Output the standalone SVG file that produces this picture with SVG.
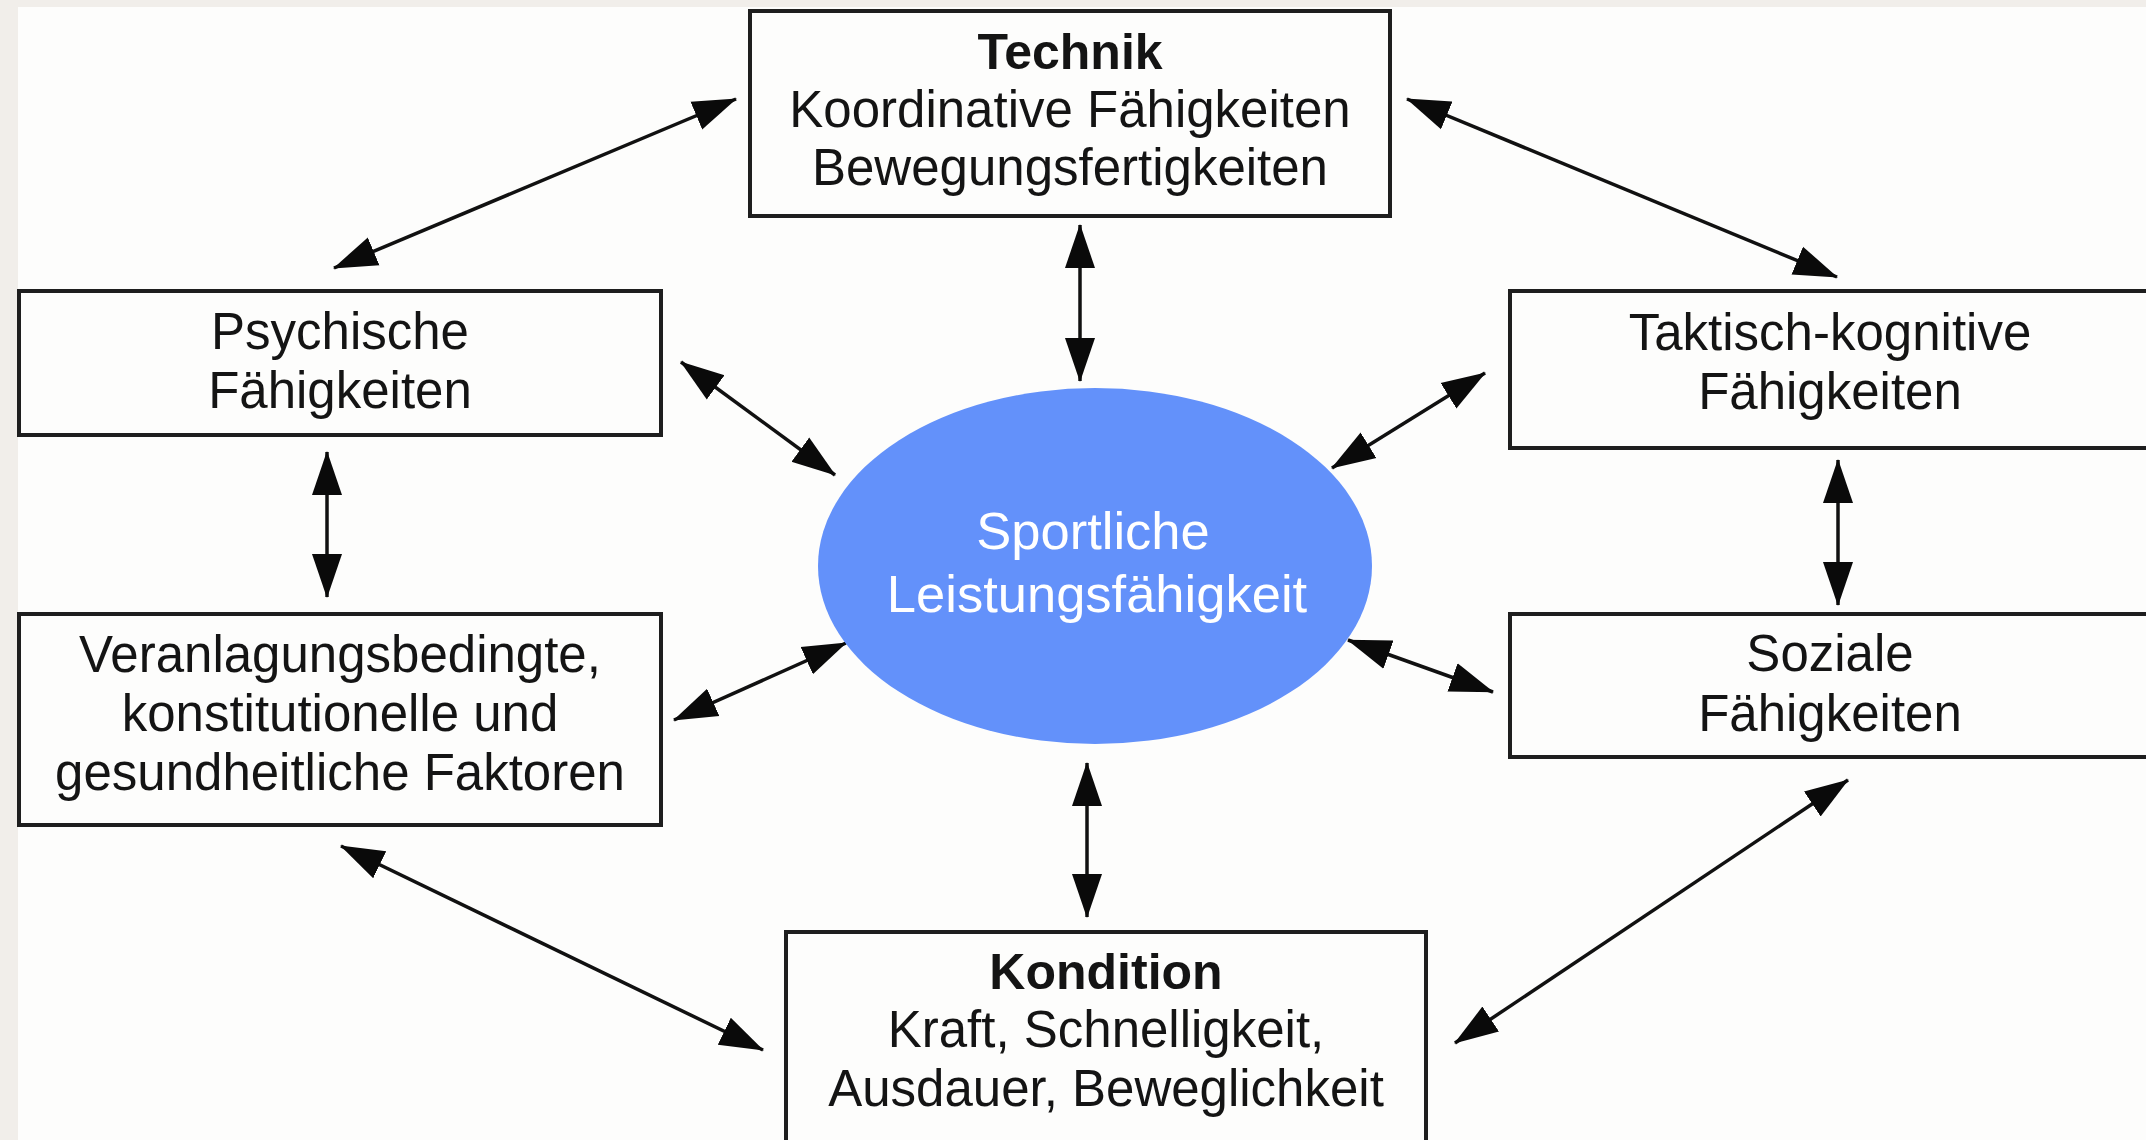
<svg xmlns="http://www.w3.org/2000/svg" width="2146" height="1140" viewBox="0 0 2146 1140">
<style>
.box{fill:#fdfdfc;stroke:#1e1e1e;stroke-width:4}
.t{font-family:"Liberation Sans",Arial,sans-serif;font-size:51px;fill:#141414;text-anchor:middle}
.b{font-weight:bold;font-size:50px}
.c{stroke:#111;stroke-width:3.5;fill:none;marker-start:url(#ah);marker-end:url(#ah)}
.w{font-family:"Liberation Sans",Arial,sans-serif;font-size:52.5px;fill:#ffffff;text-anchor:middle}
</style>
<defs>
<marker id="ah" markerUnits="userSpaceOnUse" markerWidth="44" markerHeight="32" viewBox="0 0 44 32" refX="43" refY="16" orient="auto-start-reverse">
<path d="M0,1 L44,16 L0,31 z" fill="#0a0a0a"/>
</marker>
</defs>
<rect x="0" y="0" width="2146" height="1140" fill="#f1eeea"/>
<rect x="18" y="7" width="2140" height="1140" fill="#fdfdfc"/>

<g id="connectors">
<line class="c" x1="736" y1="99" x2="334" y2="268"/>
<line class="c" x1="1407" y1="99" x2="1837" y2="277"/>
<line class="c" x1="1080" y1="225" x2="1080" y2="381"/>
<line class="c" x1="681" y1="362" x2="835" y2="475"/>
<line class="c" x1="1485" y1="373" x2="1332" y2="468"/>
<line class="c" x1="327" y1="452" x2="327" y2="597"/>
<line class="c" x1="674" y1="720" x2="846" y2="643"/>
<line class="c" x1="1348" y1="640" x2="1493" y2="692"/>
<line class="c" x1="1838" y1="460" x2="1838" y2="605"/>
<line class="c" x1="1087" y1="763" x2="1087" y2="917"/>
<line class="c" x1="341" y1="846" x2="763" y2="1050"/>
<line class="c" x1="1848" y1="780" x2="1455" y2="1043"/>
</g>

<g id="center">
<ellipse cx="1095" cy="566" rx="277" ry="178" fill="#6391fa"/>
<text class="w" x="1093" y="549">Sportliche</text>
<text class="w" x="1097" y="612">Leistungsfähigkeit</text>
</g>

<g id="technik">
<rect class="box" x="750" y="11" width="640" height="205"/>
<text class="t b" x="1070" y="69">Technik</text>
<text class="t" x="1070" y="127">Koordinative Fähigkeiten</text>
<text class="t" x="1070" y="185">Bewegungsfertigkeiten</text>
</g>

<g id="psychische">
<rect class="box" x="19" y="291" width="642" height="144"/>
<text class="t" x="340" y="349">Psychische</text>
<text class="t" x="340" y="408">Fähigkeiten</text>
</g>

<g id="taktisch">
<rect class="box" x="1510" y="291" width="650" height="157"/>
<text class="t" x="1830" y="350">Taktisch-kognitive</text>
<text class="t" x="1830" y="409">Fähigkeiten</text>
</g>

<g id="veranlagung">
<rect class="box" x="19" y="614" width="642" height="211"/>
<text class="t" x="340" y="672">Veranlagungsbedingte,</text>
<text class="t" x="340" y="731">konstitutionelle und</text>
<text class="t" x="340" y="790">gesundheitliche Faktoren</text>
</g>

<g id="soziale">
<rect class="box" x="1510" y="614" width="650" height="143"/>
<text class="t" x="1830" y="671">Soziale</text>
<text class="t" x="1830" y="731">Fähigkeiten</text>
</g>

<g id="kondition">
<rect class="box" x="786" y="932" width="640" height="215"/>
<text class="t b" x="1106" y="989">Kondition</text>
<text class="t" x="1106" y="1047">Kraft, Schnelligkeit,</text>
<text class="t" x="1106" y="1106">Ausdauer, Beweglichkeit</text>
</g>
</svg>
